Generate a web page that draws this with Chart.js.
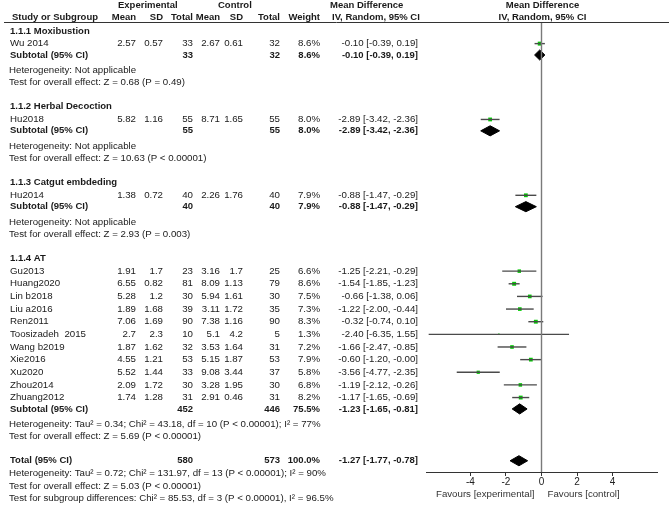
<!DOCTYPE html>
<html>
<head>
<meta charset="utf-8">
<script src="https://cdn.jsdelivr.net/npm/chart.js@4/dist/chart.umd.min.js"></script>
<style>
  html, body { margin: 0; padding: 0; background: #fff; }
  #wrap { width: 669px; height: 505px; position: relative; }
</style>
</head>
<body>
<div id="wrap"><canvas id="forest"></canvas></div>
<script>
// --- data ---
const groupNames = ['1.1.1 Moxibustion', '1.1.2 Herbal Decoction', '1.1.3 Catgut embdeding', '1.1.4 AT'];

const studyNames = ['Wu 2014', 'Hu2018', 'Hu2014', 'Gu2013', 'Huang2020', 'Lin b2018', 'Liu a2016',
  'Ren2011', 'Toosizadeh  2015', 'Wang b2019', 'Xie2016', 'Xu2020', 'Zhou2014', 'Zhuang2012'];
const studyGroup = [0, 1, 2, 3, 3, 3, 3, 3, 3, 3, 3, 3, 3, 3];
const expMean = [2.57, 5.82, 1.38, 1.91, 6.55, 5.28, 1.89, 7.06, 2.7, 1.87, 4.55, 5.52, 2.09, 1.74];
const expSD = [0.57, 1.16, 0.72, 1.7, 0.82, 1.2, 1.68, 1.69, 2.3, 1.62, 1.21, 1.44, 1.72, 1.28];
const expTotal = [33, 55, 40, 23, 81, 30, 39, 90, 10, 32, 53, 33, 30, 31];
const ctlMean = [2.67, 8.71, 2.26, 3.16, 8.09, 5.94, 3.11, 7.38, 5.1, 3.53, 5.15, 9.08, 3.28, 2.91];
const ctlSD = [0.61, 1.65, 1.76, 1.7, 1.13, 1.61, 1.72, 1.16, 4.2, 1.64, 1.87, 3.44, 1.95, 0.46];
const ctlTotal = [32, 55, 40, 25, 79, 30, 35, 90, 5, 31, 53, 37, 30, 31];
const studyWeight = [8.6, 8.0, 7.9, 6.6, 8.6, 7.5, 7.3, 8.3, 1.3, 7.2, 7.9, 5.8, 6.8, 8.2];
const studyMD = [-0.10, -2.89, -0.88, -1.25, -1.54, -0.66, -1.22, -0.32, -2.40, -1.66, -0.60, -3.56, -1.19, -1.17];
const studyLo = [-0.39, -3.42, -1.47, -2.21, -1.85, -1.38, -2.00, -0.74, -6.35, -2.47, -1.20, -4.77, -2.12, -1.65];
const studyHi = [0.19, -2.36, -0.29, -0.29, -1.23, 0.06, -0.44, 0.10, 1.55, -0.85, -0.00, -2.35, -0.26, -0.69];

const subExpTotal = [33, 55, 40, 452];
const subCtlTotal = [32, 55, 40, 446];
const subWeight = [8.6, 8.0, 7.9, 75.5];
const subMD = [-0.10, -2.89, -0.88, -1.23];
const subLo = [-0.39, -3.42, -1.47, -1.65];
const subHi = [0.19, -2.36, -0.29, -0.81];
const subHet = [
  'Heterogeneity: Not applicable',
  'Heterogeneity: Not applicable',
  'Heterogeneity: Not applicable',
  'Heterogeneity: Tau\u00b2 = 0.34; Chi\u00b2 = 43.18, df = 10 (P < 0.00001); I\u00b2 = 77%'
];
const subTest = [
  'Test for overall effect: Z = 0.68 (P = 0.49)',
  'Test for overall effect: Z = 10.63 (P < 0.00001)',
  'Test for overall effect: Z = 2.93 (P = 0.003)',
  'Test for overall effect: Z = 5.69 (P < 0.00001)'
];

const totalExp = 580, totalCtl = 573, totalWeight = 100.0;
const totalMD = -1.27, totalLo = -1.77, totalHi = -0.78;
const totalNotes = [
  'Heterogeneity: Tau\u00b2 = 0.72; Chi\u00b2 = 131.97, df = 13 (P < 0.00001); I\u00b2 = 90%',
  'Test for overall effect: Z = 5.03 (P < 0.00001)',
  'Test for subgroup differences: Chi\u00b2 = 85.53, df = 3 (P < 0.00001), I\u00b2 = 96.5%'
];

const xTicks = [-4, -2, 0, 2, 4];

// --- row layout (in row units, 0 = header rule) ---
const rows = [];      // text rows for the table
const studyRow = [];
const subRow = [];
let r = 0.71;
groupNames.forEach((g, gi) => {
  rows.push({ y: r, kind: 'group', label: g });
  studyNames.forEach((s, i) => {
    if (studyGroup[i] !== gi) return;
    r += 1;
    studyRow[i] = r;
    rows.push({ y: r, kind: 'study', i: i });
  });
  r += 0.9;
  subRow[gi] = r;
  rows.push({ y: r, kind: 'sub', i: gi });
  r += 1.2;
  rows.push({ y: r, kind: 'note', label: subHet[gi] });
  r += 1;
  rows.push({ y: r, kind: 'note', label: subTest[gi] });
  r += 1.9;
});
const totalRow = r;
rows.push({ y: r, kind: 'total' });
totalNotes.forEach((t, k) => rows.push({ y: totalRow + 1 + k, kind: 'note', label: t }));

const yMax = 35.6;

function fmt(v) {
  const neg = v < 0 || Object.is(v, -0);
  return (neg ? '-' : '') + Math.abs(v).toFixed(2);
}
function ciText(m, lo, hi) {
  return fmt(m) + ' [' + fmt(lo) + ', ' + fmt(hi) + ']';
}

// --- datasets ---
const datasets = [];
datasets.push({
  data: [{ x: 0, y: 0 }, { x: 0, y: yMax }],
  borderColor: '#7a7a7a', borderWidth: 1.4, pointRadius: 0
});
studyNames.forEach((s, i) => {
  datasets.push({
    data: [{ x: studyLo[i], y: studyRow[i] }, { x: studyHi[i], y: studyRow[i] }],
    borderColor: '#4a4a4a', borderWidth: 1.4, pointRadius: 0
  });
});
datasets.push({
  data: studyNames.map((s, i) => ({ x: studyMD[i], y: studyRow[i] })),
  showLine: false,
  pointStyle: 'rect',
  pointRadius: studyWeight.map(w => Math.sqrt(w) * 0.95),
  backgroundColor: '#00cc00', borderColor: '#00cc00', borderWidth: 0
});
function diamond(m, lo, hi, y) {
  const h = 0.4;
  return {
    data: [{ x: lo, y: y }, { x: m, y: y - h }, { x: hi, y: y }, { x: m, y: y + h }, { x: lo, y: y }],
    borderColor: '#000', backgroundColor: '#000', borderWidth: 1,
    pointRadius: 0, fill: 'shape', tension: 0
  };
}
groupNames.forEach((g, gi) => datasets.push(diamond(subMD[gi], subLo[gi], subHi[gi], subRow[gi])));
datasets.push(diamond(totalMD, totalLo, totalHi, totalRow));

// --- table text drawn against the y scale ---
const REG = '9.7px "Liberation Sans", Arial, sans-serif';
const BOLD = 'bold 9.5px "Liberation Sans", Arial, sans-serif';
const cols = { expMean: 136, expSD: 163, expN: 193, ctlMean: 220, ctlSD: 243, ctlN: 280, weight: 320, md: 418 };

const tablePlugin = {
  id: 'table',
  afterDraw(chart) {
    const ctx = chart.ctx;
    const ys = chart.scales.y;
    const xs = chart.scales.x;
    ctx.save();
    ctx.fillStyle = '#1a1a1a';
    ctx.textBaseline = 'middle';

    const put = (txt, x, y, align, font) => {
      ctx.font = font; ctx.textAlign = align; ctx.fillText(txt, x, y);
    };

    // header
    const h1 = ys.getPixelForValue(-1.28), h2 = ys.getPixelForValue(-0.4);
    put('Experimental', 118, h1, 'left', BOLD);
    put('Control', 218, h1, 'left', BOLD);
    put('Mean Difference', 330, h1, 'left', BOLD);
    put('Mean Difference', xs.getPixelForValue(0) + 1, h1, 'center', BOLD);
    put('Study or Subgroup', 12, h2, 'left', BOLD);
    put('Mean', cols.expMean, h2, 'right', BOLD);
    put('SD', cols.expSD, h2, 'right', BOLD);
    put('Total', cols.expN, h2, 'right', BOLD);
    put('Mean', cols.ctlMean, h2, 'right', BOLD);
    put('SD', cols.ctlSD, h2, 'right', BOLD);
    put('Total', cols.ctlN, h2, 'right', BOLD);
    put('Weight', cols.weight, h2, 'right', BOLD);
    put('IV, Random, 95% CI', 332, h2, 'left', BOLD);
    put('IV, Random, 95% CI', xs.getPixelForValue(0) + 1, h2, 'center', BOLD);

    ctx.strokeStyle = '#333';
    ctx.lineWidth = 1;
    const rule = Math.round(ys.getPixelForValue(0)) + 0.5;
    ctx.beginPath(); ctx.moveTo(4, rule); ctx.lineTo(669, rule); ctx.stroke();

    rows.forEach(row => {
      const y = ys.getPixelForValue(row.y);
      if (row.kind === 'group') {
        put(row.label, 10, y, 'left', BOLD);
      } else if (row.kind === 'note') {
        put(row.label, 9, y, 'left', REG);
      } else if (row.kind === 'study') {
        const i = row.i;
        put(studyNames[i], 10, y, 'left', REG);
        put(String(expMean[i]), cols.expMean, y, 'right', REG);
        put(String(expSD[i]), cols.expSD, y, 'right', REG);
        put(String(expTotal[i]), cols.expN, y, 'right', REG);
        put(String(ctlMean[i]), cols.ctlMean, y, 'right', REG);
        put(String(ctlSD[i]), cols.ctlSD, y, 'right', REG);
        put(String(ctlTotal[i]), cols.ctlN, y, 'right', REG);
        put(studyWeight[i].toFixed(1) + '%', cols.weight, y, 'right', REG);
        put(ciText(studyMD[i], studyLo[i], studyHi[i]), cols.md, y, 'right', REG);
      } else if (row.kind === 'sub') {
        const i = row.i;
        put('Subtotal (95% CI)', 10, y, 'left', BOLD);
        put(String(subExpTotal[i]), cols.expN, y, 'right', BOLD);
        put(String(subCtlTotal[i]), cols.ctlN, y, 'right', BOLD);
        put(subWeight[i].toFixed(1) + '%', cols.weight, y, 'right', BOLD);
        put(ciText(subMD[i], subLo[i], subHi[i]), cols.md, y, 'right', BOLD);
      } else if (row.kind === 'total') {
        put('Total (95% CI)', 10, y, 'left', BOLD);
        put(String(totalExp), cols.expN, y, 'right', BOLD);
        put(String(totalCtl), cols.ctlN, y, 'right', BOLD);
        put(totalWeight.toFixed(1) + '%', cols.weight, y, 'right', BOLD);
        put(ciText(totalMD, totalLo, totalHi), cols.md, y, 'right', BOLD);
      }
    });

    // favours labels under the axis
    ctx.fillStyle = '#333';
    const x0 = xs.getPixelForValue(0);
    put('Favours [experimental]', x0 - 7, 494, 'right', REG);
    put('Favours [control]', x0 + 6, 494, 'left', REG);
    ctx.restore();
  }
};

new Chart(document.getElementById('forest'), {
  type: 'line',
  data: { datasets: datasets },
  options: {
    responsive: true,
    maintainAspectRatio: false,
    animation: false,
    events: [],
    layout: { padding: { left: 426, right: 12, top: 22, bottom: 0 } },
    plugins: { legend: { display: false }, tooltip: { enabled: false } },
    scales: {
      x: {
        type: 'linear',
        min: -6.5,
        max: 6.5,
        afterBuildTicks: s => { s.ticks = xTicks.map(v => ({ value: v })); },
        afterFit: s => { s.height = 33; },
        border: { display: true, color: '#333', width: 1 },
        grid: { drawOnChartArea: false, drawTicks: true, tickLength: 4, color: '#333' },
        ticks: { color: '#222', padding: 0, font: { family: '"Liberation Sans", Arial, sans-serif', size: 10 } }
      },
      y: {
        type: 'linear',
        display: false,
        reverse: true,
        min: 0,
        max: yMax
      }
    }
  },
  plugins: [tablePlugin]
});
</script>
</body>
</html>
